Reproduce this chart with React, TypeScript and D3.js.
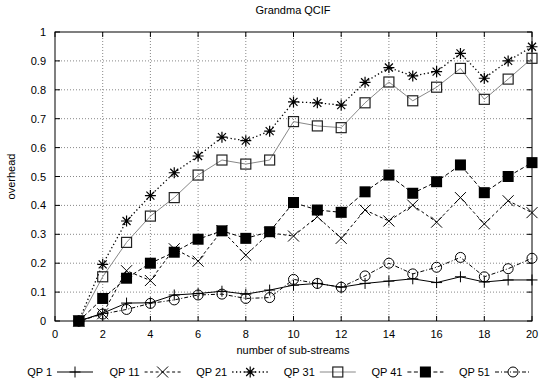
import React from "react";
import * as d3 from "d3";

const substreams = [1, 2, 3, 4, 5, 6, 7, 8, 9, 10, 11, 12, 13, 14, 15, 16, 17, 18, 19, 20];
const qp1 = [0, 0.027, 0.062, 0.063, 0.09, 0.095, 0.103, 0.093, 0.107, 0.124, 0.13, 0.117, 0.13, 0.138, 0.146, 0.133, 0.153, 0.135, 0.142, 0.142];
const qp11 = [0, 0.025, 0.174, 0.14, 0.25, 0.207, 0.313, 0.228, 0.305, 0.294, 0.361, 0.286, 0.384, 0.346, 0.401, 0.342, 0.427, 0.336, 0.416, 0.375];
const qp21 = [0, 0.196, 0.346, 0.434, 0.513, 0.571, 0.636, 0.624, 0.657, 0.758, 0.755, 0.747, 0.826, 0.877, 0.848, 0.863, 0.926, 0.84, 0.9, 0.949];
const qp31 = [0, 0.153, 0.272, 0.363, 0.427, 0.505, 0.557, 0.543, 0.557, 0.69, 0.675, 0.669, 0.755, 0.827, 0.762, 0.809, 0.874, 0.767, 0.837, 0.909];
const qp41 = [0, 0.078, 0.148, 0.2, 0.238, 0.283, 0.312, 0.286, 0.309, 0.41, 0.384, 0.376, 0.447, 0.505, 0.442, 0.482, 0.54, 0.444, 0.5, 0.548];
const qp51 = [0, 0.024, 0.04, 0.061, 0.073, 0.09, 0.093, 0.078, 0.081, 0.144, 0.13, 0.117, 0.156, 0.2, 0.163, 0.186, 0.22, 0.153, 0.181, 0.217];
const seriesNames = ["QP 1", "QP 11", "QP 21", "QP 31", "QP 41", "QP 51"];
const xTicks = [0, 2, 4, 6, 8, 10, 12, 14, 16, 18, 20];
const yTicks = [0, 0.1, 0.2, 0.3, 0.4, 0.5, 0.6, 0.7, 0.8, 0.9, 1];

const W = 541, H = 387;
const L = 55, R = 532, T = 32, B = 321;
const x = d3.scaleLinear().domain([0, 20]).range([L, R]);
const y = d3.scaleLinear().domain([0, 1]).range([B, T]);
const font = "'Liberation Sans', Arial, Helvetica, sans-serif";

type Style = { stroke: string; dash: string; width: number; marker: string };
const styles: Style[] = [
  { stroke: "#000", dash: "", width: 1, marker: "plus" },
  { stroke: "#000", dash: "3,2.5", width: 1, marker: "x" },
  { stroke: "#000", dash: "1.3,2.5", width: 1.3, marker: "star" },
  { stroke: "#888", dash: "", width: 1, marker: "square" },
  { stroke: "#000", dash: "4,2.5", width: 1, marker: "fsquare" },
  { stroke: "#000", dash: "4,2,1,2", width: 1, marker: "circle" },
];
const allData = [qp1, qp11, qp21, qp31, qp41, qp51];

function Marker({ kind, cx, cy }: { kind: string; cx: number; cy: number }) {
  const s = 5.5;
  if (kind === "plus")
    return <path d={`M${cx - s},${cy}H${cx + s}M${cx},${cy - s}V${cx === cx ? cy + s : 0}`} stroke="#000" strokeWidth={1} fill="none" />;
  if (kind === "x")
    return <path d={`M${cx - s},${cy - s}L${cx + s},${cy + s}M${cx - s},${cy + s}L${cx + s},${cy - s}`} stroke="#000" strokeWidth={1} fill="none" />;
  if (kind === "star")
    return <path d={`M${cx - s},${cy}H${cx + s}M${cx},${cy - s}V${cy + s}M${cx - 4},${cy - 4}L${cx + 4},${cy + 4}M${cx - 4},${cy + 4}L${cx + 4},${cy - 4}`} stroke="#000" strokeWidth={1.2} fill="none" />;
  if (kind === "square")
    return <rect x={cx - 5} y={cy - 5} width={10} height={10} stroke="#222" strokeWidth={1.2} fill="none" />;
  if (kind === "fsquare")
    return <rect x={cx - 5.5} y={cy - 5.5} width={11} height={11} fill="#000" />;
  return <circle cx={cx} cy={cy} r={5} stroke="#000" strokeWidth={1} fill="none" />;
}

export default function App() {
  const line = d3.line<number>().x((_, i) => x(substreams[i])).y((d) => y(d));
  const legendStart = 75, legendStep = 87.6, legendY = 372;
  return (
    <svg width={W} height={H} style={{ position: "absolute", left: 0, top: 0, background: "#fff" }} fontFamily={font}>
      <rect width={W} height={H} fill="#fff" />
      {/* grid */}
      {xTicks.filter((t) => t > 0 && t < 20).map((t) => (
        <line key={"gx" + t} x1={x(t)} x2={x(t)} y1={T} y2={B} stroke="#888" strokeWidth={1} strokeDasharray="1,2" />
      ))}
      {yTicks.filter((t) => t > 0 && t < 1).map((t) => (
        <line key={"gy" + t} x1={L} x2={R} y1={y(t)} y2={y(t)} stroke="#888" strokeWidth={1} strokeDasharray="1,2" />
      ))}
      {/* ticks */}
      {xTicks.map((t) => (
        <g key={"tx" + t}>
          <line x1={x(t)} x2={x(t)} y1={B} y2={B - 5} stroke="#000" />
          <line x1={x(t)} x2={x(t)} y1={T} y2={T + 5} stroke="#000" />
          <text x={x(t)} y={B + 17} fontSize={11} textAnchor="middle">{t}</text>
        </g>
      ))}
      {yTicks.map((t) => (
        <g key={"ty" + t}>
          <line x1={L} x2={L + 5} y1={y(t)} y2={y(t)} stroke="#000" />
          <line x1={R} x2={R - 5} y1={y(t)} y2={y(t)} stroke="#000" />
          <text x={L - 9} y={y(t) + 4} fontSize={11} textAnchor="end">{d3.format("~g")(t)}</text>
        </g>
      ))}
      <rect x={L} y={T} width={R - L} height={B - T} fill="none" stroke="#000" strokeWidth={1} />
      {/* series */}
      {allData.map((d, i) => (
        <g key={"s" + i}>
          <path d={line(d) || ""} fill="none" stroke={styles[i].stroke} strokeWidth={styles[i].width} strokeDasharray={styles[i].dash} />
          {d.map((v, j) => (
            <Marker key={j} kind={styles[i].marker} cx={x(substreams[j])} cy={y(v)} />
          ))}
        </g>
      ))}
      {/* labels */}
      <text x={293} y={14} fontSize={11} textAnchor="middle">Grandma QCIF</text>
      <text x={293} y={354} fontSize={11} textAnchor="middle">number of sub-streams</text>
      <text transform={`translate(15,${(T + B) / 2}) rotate(-90)`} fontSize={11} textAnchor="middle">overhead</text>
      {/* legend */}
      {seriesNames.map((n, i) => {
        const cx = legendStart + i * legendStep;
        return (
          <g key={"lg" + i}>
            <text x={cx - 23} y={legendY + 4} fontSize={11} textAnchor="end">{n}</text>
            <line x1={cx - 18} x2={cx + 18} y1={legendY} y2={legendY} stroke={styles[i].stroke} strokeWidth={styles[i].width} strokeDasharray={styles[i].dash} />
            <Marker kind={styles[i].marker} cx={cx} cy={legendY} />
          </g>
        );
      })}
    </svg>
  );
}
